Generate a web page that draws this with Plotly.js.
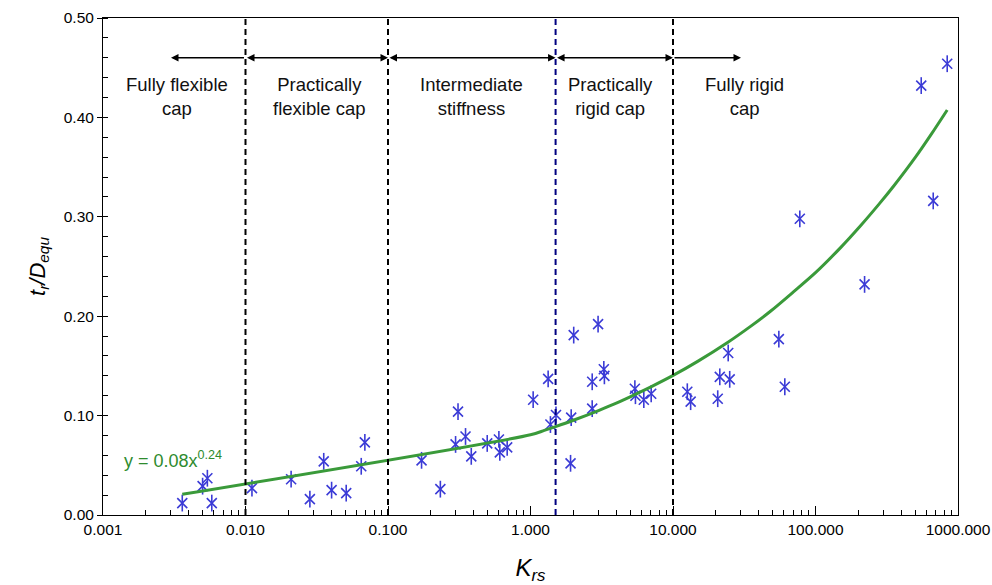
<!DOCTYPE html>
<html><head><meta charset="utf-8">
<script src="https://cdn.plot.ly/plotly-3.0.1.min.js"></script>
<style>html,body{margin:0;padding:0;background:#fff}#chart{width:992px;height:585px}</style>
</head><body><div id="chart"></div>
<script>
// measured points: K_rs and t_r/D_equ
const krs = [0.0036,0.0050,0.0054,0.0058,0.0111,0.0209,0.0283,0.0354,0.0402,0.0509,0.0649,0.0688,
  0.172,0.233,0.310,0.298,0.350,0.384,0.497,0.600,0.609,0.686,
  1.044,1.33,1.38,1.51,1.93,1.91,2.01,2.98,2.71,3.27,3.30,2.71,5.40,5.45,6.24,7.03,
  12.6,13.3,20.6,21.3,25.0,24.4,55.3,60.9,77.6,221,670,552,840];
const ratio = [0.012,0.029,0.037,0.012,0.027,0.036,0.016,0.054,0.025,0.022,0.049,0.073,
  0.055,0.026,0.104,0.071,0.079,0.059,0.072,0.076,0.063,0.068,
  0.116,0.137,0.091,0.1006,0.098,0.052,0.181,0.192,0.134,0.1466,0.140,0.107,0.127,0.120,0.116,0.122,
  0.124,0.114,0.117,0.139,0.1365,0.163,0.177,0.129,0.298,0.232,0.316,0.432,0.454];
// trend line
const trendK = [0.0036,1.0,1.25,1.5,2,3,3.85,5,7,9.87,15,24,35,48.3,70,100,150,207,280,354,500,650,840];
const trendRatio = [0.0208,0.0807,0.0851,0.0889,0.0953,0.1051,0.1115,0.1189,0.1289,0.1399,0.1548,0.1733,0.1898,0.205,0.2245,0.2438,0.269,0.291,0.313,0.331,0.3595,0.3832,0.4075];
const trendLabel = 'y = 0.08x<sup>0.24</sup>';
const xTickVals = [0.001,0.01,0.1,1,10,100,1000];
const xTickText = ['0.001','0.010','0.100','1.000','10.000','100.000','1000.000'];
const boundaries = [0.01,0.1,1.5,10];
const boundaryColors = ['#000000','#000000','#000080','#000000'];
const zoneLabels = ['Fully flexible<br>cap','Practically<br>flexible cap','Intermediate<br>stiffness','Practically<br>rigid cap','Fully rigid<br>cap'];
const zoneLabelK = [0.0033,0.033,0.385,3.64,32];
const arrowTail = [0.01,0.01,0.1,1.5,10];
const arrowHead = [0.003,0.1,1.5,10,30];
const arrowSides = ['end','end+start','end+start','end+start','end'];
const arrowLevel = 0.46;

const FONT = 'Liberation Sans, Arial, sans-serif';
const blue = '#3b3bd6';
const green = '#3a9a3a';

const traces = [
  {x: krs, y: ratio, type: 'scatter', mode: 'markers', hoverinfo: 'skip',
   marker: {symbol: 'x-thin-open', size: 10, color: blue, line: {color: blue, width: 1.6}}},
  {x: krs, y: ratio, type: 'scatter', mode: 'markers', hoverinfo: 'skip',
   marker: {symbol: 'line-ns-open', size: 12, color: blue, line: {color: blue, width: 1.6}}},
  {x: trendK, y: trendRatio, type: 'scatter', mode: 'lines', hoverinfo: 'skip',
   line: {color: green, width: 3, shape: 'spline', smoothing: 0.8}}
];

const shapes = boundaries.map((b, i) => ({
  type: 'line', xref: 'x', yref: 'paper', x0: b, x1: b, y0: 0, y1: 1,
  line: {color: boundaryColors[i], width: 2, dash: '6px,4px'}, layer: 'above'
}));

const annotations = [];
zoneLabels.forEach((t, i) => annotations.push({
  x: Math.log10(zoneLabelK[i]), y: 0.421, xref: 'x', yref: 'y', text: t, showarrow: false,
  font: {family: FONT, size: 18.5, color: '#111'}, align: 'center', xanchor: 'center', yanchor: 'middle'
}));
arrowHead.forEach((h, i) => annotations.push({
  x: Math.log10(h), y: arrowLevel, ax: Math.log10(arrowTail[i]), ay: arrowLevel,
  xref: 'x', yref: 'y', axref: 'x', ayref: 'y', text: '', showarrow: true,
  arrowhead: 2, arrowsize: 1, arrowwidth: 1.5, arrowcolor: '#000', arrowside: arrowSides[i],
  standoff: 0, startstandoff: 0
}));
annotations.push({
  x: Math.log10(0.00135), y: 0.0555, xref: 'x', yref: 'y', text: trendLabel, showarrow: false,
  xanchor: 'left', yanchor: 'middle', font: {family: FONT, size: 18, color: '#2e8b2e'}
});

const layout = {
  width: 992, height: 585,
  margin: {l: 103, r: 34, t: 18, b: 70},
  paper_bgcolor: '#fff', plot_bgcolor: '#fff',
  showlegend: false,
  font: {family: FONT, color: '#000'},
  xaxis: {
    type: 'log', range: [-3, 3], tickvals: xTickVals, ticktext: xTickText,
    ticks: 'inside', ticklen: 9, tickcolor: '#000', tickwidth: 1,
    showline: true, linecolor: '#000', linewidth: 1, mirror: true,
    showgrid: false, zeroline: false,
    tickfont: {family: FONT, size: 15.5, color: '#000'},
    minor: {ticks: 'inside', ticklen: 5, tickcolor: '#000', dtick: 'D1', showgrid: false},
    title: {text: '<i>K<sub>rs</sub></i>', font: {family: FONT, size: 24, color: '#000'}, standoff: 24}
  },
  yaxis: {
    range: [0, 0.5], dtick: 0.1, tickformat: '.2f',
    ticks: 'outside', ticklen: 5, tickcolor: '#000',
    showline: true, linecolor: '#000', linewidth: 1, mirror: true,
    showgrid: false, zeroline: false,
    tickfont: {family: FONT, size: 15.5, color: '#000'},
    minor: {ticks: 'inside', ticklen: 5, tickcolor: '#000', dtick: 0.02, showgrid: false},
    title: {text: '<i>t<sub>r</sub>/D<sub>equ</sub></i>', font: {family: FONT, size: 22, color: '#000'}, standoff: 12}
  },
  shapes: shapes,
  annotations: annotations
};

Plotly.newPlot('chart', traces, layout, {displayModeBar: false, staticPlot: true});
</script>
</body></html>
